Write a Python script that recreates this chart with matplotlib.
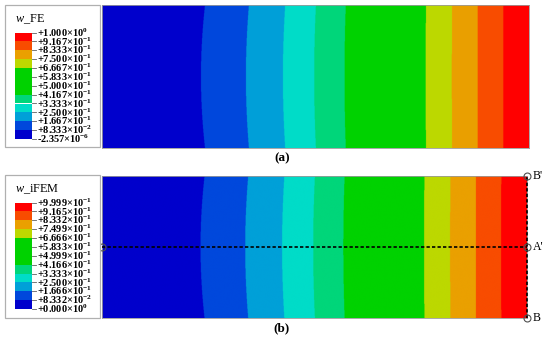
import numpy as np
import matplotlib
matplotlib.use("Agg")
import matplotlib.pyplot as plt
from matplotlib.colors import ListedColormap, BoundaryNorm
from matplotlib.patches import Rectangle
from matplotlib.lines import Line2D

plt.rcParams['font.family'] = ['Liberation Serif', 'DejaVu Serif']
plt.rcParams['mathtext.fontset'] = 'custom'
plt.rcParams['mathtext.rm'] = 'Liberation Serif'
plt.rcParams['mathtext.it'] = 'Liberation Serif:italic'
plt.rcParams['mathtext.bf'] = 'Liberation Serif:bold'

# ---- data ----
levels_fe = [-2.357e-6, 8.333e-2, 1.667e-1, 2.500e-1, 3.333e-1, 4.167e-1, 5.000e-1,
             5.833e-1, 6.667e-1, 7.500e-1, 8.333e-1, 9.167e-1, 1.000e0]
levels_ifem = [0.000e0, 8.332e-2, 1.666e-1, 2.500e-1, 3.333e-1, 4.166e-1, 4.999e-1,
               5.833e-1, 6.666e-1, 7.499e-1, 8.332e-1, 9.165e-1, 9.999e-1]
band_colors = ['#0000cc', '#0048dc', '#00a0d8', '#00dcc8', '#00d67a', '#00d200',
               '#00d200', '#00d200', '#bcd800', '#eaa000', '#f84c00', '#ff0000']
# positions (fraction of plate length) where the deflection reaches given values (read at plate edges)
profile_pos = [0.0, 0.241, 0.344, 0.429, 0.501, 0.571, 0.759, 0.820, 0.880, 0.940, 1.0]
profile_val = [0.0, 0.0833, 0.1667, 0.25, 0.3333, 0.4167, 0.6667, 0.75, 0.8333, 0.9167, 1.0]
titles = ['FE', 'iFEM']
panel_labels = ['(a)', '(b)']
point_labels = ['A', "A'", "B'", 'B']

W, H = 550, 341
fig = plt.figure(figsize=(W / 100, H / 100), dpi=100)
fig.patch.set_facecolor('white')


def fx(x):
    return x / W


def fy(y):
    return 1 - y / H


def fmt(v):
    if v == 0:
        m, e = 0.0, 0
    else:
        e = int(np.floor(np.log10(abs(v))))
        m = v / 10 ** e
    sign = '+' if v >= 0 else '-'
    es = r'$^{\mathbf{%d}}$' % e if e >= 0 else r'$^{\mathbf{-%d}}$' % (-e)
    return '%s%.3f\u00d710%s' % (sign, abs(m), es)


t = np.linspace(0, 1, 1281)
s = np.linspace(-1, 1, 429)
T, S = np.meshgrid(t, s)
shift = 0.016 * (1 - T) ** 2 * (1 - S ** 2)
field = np.interp(np.clip(T + shift, 0, 1), profile_pos, profile_val)

cmap = ListedColormap(band_colors)

panels = [
    dict(levels=levels_fe, box=(5, 5, 100, 147), ax=(102, 5, 529, 148)),
    dict(levels=levels_ifem, box=(5, 175, 100, 318), ax=(102, 176, 527, 318)),
]

for i, p in enumerate(panels):
    lev = p['levels']
    x0, y0, x1, y1 = p['ax']
    ax = fig.add_axes([fx(x0), fy(y1), fx(x1) - fx(x0), (y1 - y0) / H])
    Z = np.clip(field, lev[0], lev[-1] - 1e-9)
    norm = BoundaryNorm(lev, cmap.N)
    ax.imshow(Z, cmap=cmap, norm=norm, extent=(0, 1, -1, 1), origin='lower',
              aspect='auto', interpolation='antialiased', interpolation_stage='rgba')
    ax.set_xlim(0, 1)
    ax.set_ylim(-1, 1)
    ax.set_xticks([])
    ax.set_yticks([])
    for sp in ax.spines.values():
        sp.set_color('#9a9a9a')
        sp.set_linewidth(0.6)

    # legend box
    bx0, by0, bx1, by1 = p['box']
    fig.patches.append(Rectangle((fx(bx0), fy(by1)), fx(bx1) - fx(bx0), (by1 - by0) / H,
                                 transform=fig.transFigure, facecolor='white',
                                 edgecolor='#b0b0b0', linewidth=0.9))
    fig.text(fx(15), fy(by0 + 14), r'$\mathit{w}$_' + titles[i], fontsize=8.8,
             ha='left', va='center')
    ctop = by0 + 27.5
    cbot = by0 + 134
    n = len(lev) - 1
    h = (cbot - ctop) / n
    for k in range(n):
        yy = cbot - (k + 1) * h
        fig.patches.append(Rectangle((fx(15), fy(yy + h)), fx(32) - fx(15), h / H,
                                     transform=fig.transFigure,
                                     facecolor=band_colors[k], edgecolor='none'))
    for k, v in enumerate(lev):
        yy = cbot - k * h
        fig.add_artist(Line2D([fx(32), fx(36)], [fy(yy), fy(yy)], color='#606060',
                              linewidth=0.6, transform=fig.transFigure))
        fig.text(fx(37), fy(yy), fmt(v), fontsize=7.5, fontweight='bold',
                 ha='left', va='center')

    fig.text(fx(282), fy(y1 + 10.5), panel_labels[i], fontsize=9.5, fontweight='bold',
             ha='center', va='center')

    if i == 1:
        ax.plot([0, 1], [0, 0], color='black', linewidth=1.2, dashes=(2.0, 1.3),
                clip_on=False, zorder=5)
        ax.plot([1, 1], [-1, 1], color='black', linewidth=1.2, dashes=(2.0, 1.3),
                clip_on=False, zorder=5)
        pts_x = [0, 1, 1, 1]
        pts_y = [0, 0, 1, -1]
        ax.plot(pts_x, pts_y, linestyle='none', marker='o', markersize=5,
                markerfacecolor='none', markeredgecolor='#505050',
                markeredgewidth=0.8, clip_on=False, zorder=6)
        ax.annotate(point_labels[0], (0, 0), xytext=(-4, 2), textcoords='offset points',
                    fontsize=8.5, ha='center', va='bottom', annotation_clip=False)
        for lab, xx, yy in zip(point_labels[1:], pts_x[1:], pts_y[1:]):
            ax.annotate(lab, (xx, yy), xytext=(4, 0), textcoords='offset points',
                        fontsize=8.5, ha='left', va='center', annotation_clip=False)

fig.savefig('out.png', dpi=100, facecolor='white')
